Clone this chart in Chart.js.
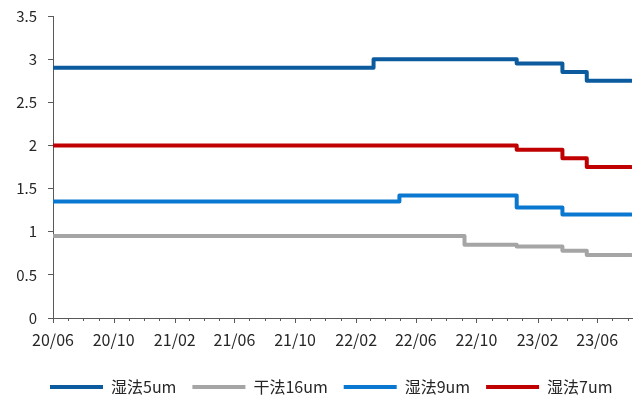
<!DOCTYPE html>
<html>
<head>
<meta charset="utf-8">
<script src="https://cdn.jsdelivr.net/npm/chart.js@4.4.1/dist/chart.umd.min.js"></script>
<style>
  html, body { margin: 0; padding: 0; background: #fff; }
  #wrap { width: 638px; height: 400px; }
</style>
</head>
<body>
<div id="wrap"><canvas id="c" width="638" height="400"></canvas></div>
<script>
// Separator film price steps (元/平方米); each series holds its price-change dates and levels
const seriesNames = ['湿法5um', '干法16um', '湿法9um', '湿法7um'];
const seriesColors = ['#0B5B9E', '#A5A5A5', '#0A78D0', '#C00000'];

const wet5Dates  = ['2020-06-03', '2022-03-08', '2022-12-21', '2023-03-23', '2023-05-11', '2023-08-08'];
const wet5Values = [2.90, 3.00, 2.95, 2.85, 2.75, 2.75];

const dry16Dates  = ['2020-06-03', '2022-09-07', '2022-12-21', '2023-03-23', '2023-05-11', '2023-08-08'];
const dry16Values = [0.95, 0.85, 0.83, 0.78, 0.73, 0.73];

const wet9Dates  = ['2020-06-03', '2022-04-29', '2022-12-21', '2023-03-23', '2023-08-08'];
const wet9Values = [1.35, 1.42, 1.28, 1.20, 1.20];

const wet7Dates  = ['2020-06-03', '2022-12-21', '2023-03-23', '2023-05-11', '2023-08-08'];
const wet7Values = [2.00, 1.95, 1.85, 1.75, 1.75];

const axisStart = '2020-06-01';
const axisEnd = '2023-08-10';

const DAY = 86400000;
function dayOf(s) {
  const [y, m, d] = s.split('-').map(Number);
  const [y0, m0, d0] = axisStart.split('-').map(Number);
  return (Date.UTC(y, m - 1, d) - Date.UTC(y0, m0 - 1, d0)) / DAY;
}
function toPoints(dates, values) {
  return dates.map((d, i) => ({ x: dayOf(d), y: values[i] }));
}

// Month-start ticks along the day axis; labelled every four months
const monthTicks = [];
(function () {
  let y = 2020, m = 6;
  while (true) {
    const s = y + '-' + String(m).padStart(2, '0') + '-01';
    if (dayOf(s) > dayOf(axisEnd)) break;
    monthTicks.push({ value: dayOf(s), label: String(y % 100) + '/' + String(m).padStart(2, '0'), major: ((y * 12 + m) - (2020 * 12 + 6)) % 4 === 0 });
    m++; if (m > 12) { m = 1; y++; }
  }
})();

const datasets = [
  toPoints(wet5Dates, wet5Values),
  toPoints(dry16Dates, dry16Values),
  toPoints(wet9Dates, wet9Values),
  toPoints(wet7Dates, wet7Values)
].map((pts, i) => ({
  label: seriesNames[i],
  data: pts,
  borderColor: seriesColors[i],
  backgroundColor: seriesColors[i],
  borderWidth: 4,
  borderCapStyle: 'round',
  borderJoinStyle: 'round',
  stepped: 'before',
  pointRadius: 0,
  fill: false
}));

const FONT = "'Noto Sans CJK SC', 'Noto Sans', sans-serif";
const TEXT = '#262626';
const AXIS = '#595959';

// Draws month tick marks below the x axis, longer at labelled months
const xTickMarks = {
  id: 'xTickMarks',
  afterDraw(chart) {
    const xs = chart.scales.x;
    const ctx = chart.ctx;
    const y0 = xs.top;
    ctx.save();
    ctx.strokeStyle = AXIS;
    ctx.lineWidth = 1;
    monthTicks.forEach(t => {
      const px = Math.round(xs.getPixelForValue(t.value)) + 0.5;
      ctx.beginPath();
      ctx.moveTo(px, y0);
      ctx.lineTo(px, y0 + (t.major ? 5 : 3));
      ctx.stroke();
    });
    ctx.restore();
  }
};

// Place the legend row a little lower and further right
const legendShift = {
  id: 'legendShift',
  afterLayout(chart) {
    const lg = chart.legend;
    if (lg) {
      lg.left += 34; lg.right += 34;
      lg.top += 5; lg.bottom += 5;
    }
  }
};

Chart.defaults.font.family = FONT;
Chart.defaults.color = TEXT;

new Chart(document.getElementById('c'), {
  type: 'line',
  data: { datasets },
  plugins: [xTickMarks, legendShift],
  options: {
    responsive: false,
    animation: false,
    layout: { padding: { top: 16, right: 6, left: 0, bottom: 0 } },
    scales: {
      x: {
        type: 'linear',
        min: 0,
        max: dayOf(axisEnd),
        afterBuildTicks(scale) {
          scale.ticks = monthTicks.map(t => ({ value: t.value }));
        },
        afterFit(scale) { scale.height = 40; },
        ticks: {
          autoSkip: false,
          maxRotation: 0,
          padding: 6,
          font: { size: 16 },
          color: TEXT,
          callback(value, index) {
            const t = monthTicks[index];
            return t && t.major ? t.label : '';
          }
        },
        grid: { drawOnChartArea: false, tickLength: 6, tickColor: 'transparent' },
        border: { color: AXIS, width: 1 }
      },
      y: {
        min: 0,
        max: 3.5,
        afterFit(scale) {
          scale.width = 53;
          scale.paddingTop = 0;
          scale.paddingBottom = 0;
        },
        ticks: {
          stepSize: 0.5,
          padding: 11,
          font: { size: 15 },
          color: TEXT,
          callback(value) { return String(value); }
        },
        grid: { drawOnChartArea: false, tickLength: 5, tickColor: AXIS },
        border: { color: AXIS, width: 1 }
      }
    },
    plugins: {
      legend: {
        position: 'bottom',
        align: 'start',
        labels: {
          usePointStyle: true,
          pointStyle: 'line',
          pointStyleWidth: 53,
          boxHeight: 4,
          padding: 16,
          font: { size: 16 },
          color: TEXT
        }
      },
      tooltip: { enabled: false }
    }
  }
});
</script>
</body>
</html>
